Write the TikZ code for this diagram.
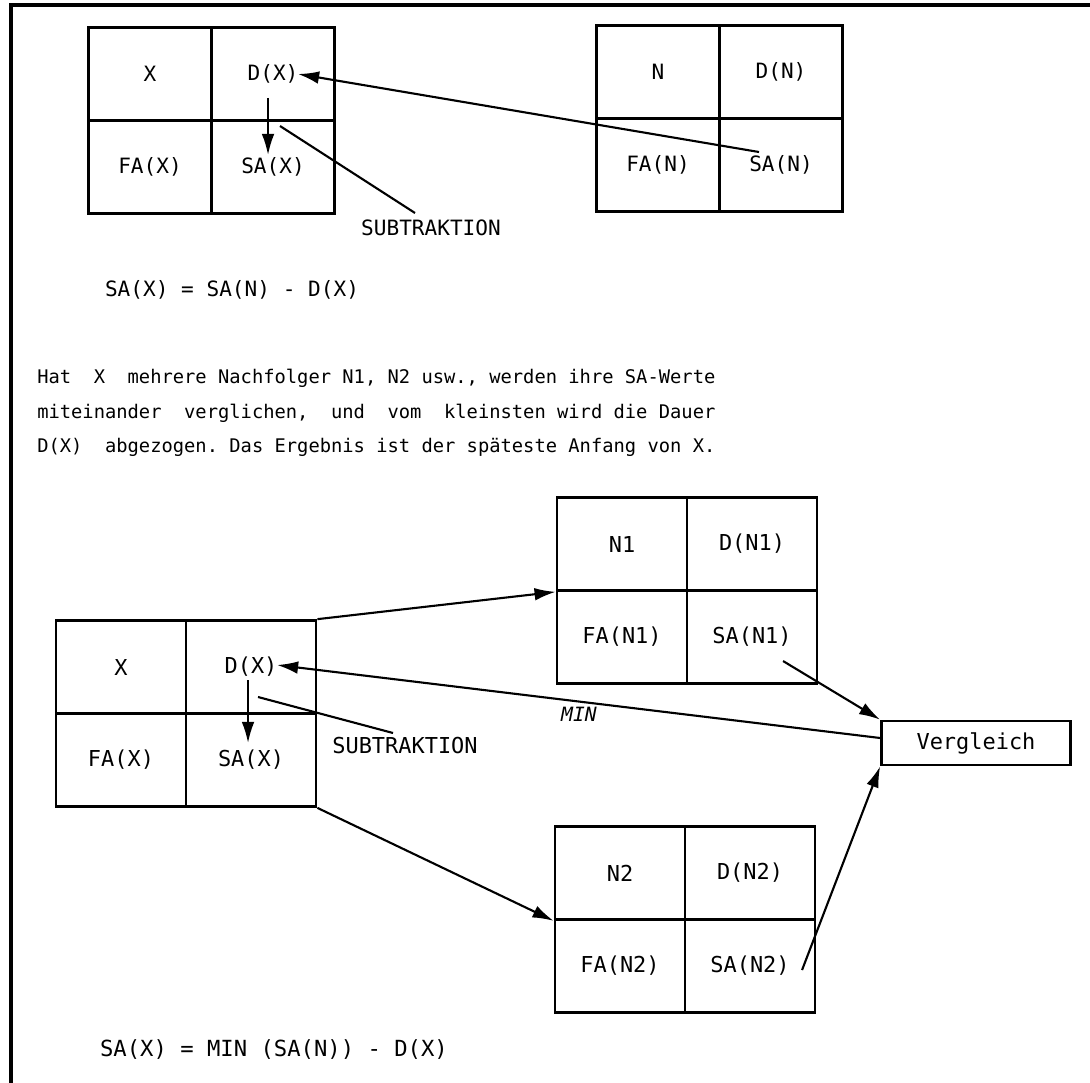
\documentclass[tikz,border=0pt]{standalone}
\usepackage{fontspec}
\setmonofont{DejaVu Sans Mono}
\usetikzlibrary{arrows.meta,calc}

\begin{document}
\begin{tikzpicture}[x=0.025cm,y=-0.025cm]
    \tikzstyle{cell} = [rectangle, draw, line width=1.9pt, inner sep=0pt,
        minimum width=3.075cm, minimum height=2.325cm,
        font=\ttfamily\fontsize{15}{18}\selectfont]
    \tikzstyle{bigcell} = [cell, minimum width=3.25cm,
        font=\ttfamily\fontsize{15.6}{18}\selectfont]
    \tikzstyle{txt} = [inner sep=0pt, font=\ttfamily\fontsize{15}{18}\selectfont]
    \tikzstyle{line} = [draw, line width=1.5pt]
    \tikzstyle{arrow} = [line, -{Latex[length=15pt,width=9pt]}]

    \useasboundingbox (0,0) rectangle (1090,1083);
    \draw [line width=2.2pt] (1090,5) -- (11,5) -- (11,1083);

    \node [cell] (X) at (150,74) {X};
    \node [cell, right of=X, node distance=3.075cm] (DX) {D(X)};
    \node [cell, below of=X, node distance=2.325cm] (FAX) {FA(X)};
    \node [cell, right of=FAX, node distance=3.075cm] (SAX) {SA(X)};
    %
    \node [cell] (N) at (658,72) {N};
    \node [cell, right of=N, node distance=3.075cm] (DN) {D(N)};
    \node [cell, below of=N, node distance=2.325cm] (FAN) {FA(N)};
    \node [cell, right of=FAN, node distance=3.075cm] (SAN) {SA(N)};
    %
    \path [arrow] ($(SAN.center)+(-22,-13)$) -- ($(DX.center)+(25,0)$);
    \path [arrow] ($(DX.center)+(-5,24)$) -- ($(SAX.center)+(-5,-12)$);
    \node [txt] (SUB) at (431,228) {SUBTRAKTION};
    \path [line] ($(SAX.center)+(7,-41)$) -- ($(SUB.center)+(-16,-15)$);
    \node [txt] (eq1) at (232,290) {SA(X) = SA(N) - D(X)};
    %
    \node [txt, anchor=west, align=left,
        font=\ttfamily\fontsize{13.35}{24.5}\selectfont\frenchspacing] (text) at (37,413)
        {Hat~~X~~mehrere Nachfolger N1, N2 usw., werden ihre SA-Werte\\
         miteinander~~verglichen,~~und~~vom~~kleinsten wird die Dauer\\
         D(X)~~abgezogen. Das Ergebnis ist der späteste Anfang von X.};
    %
    \node [bigcell] (X2) at (121,667) {X};
    \node [bigcell, right of=X2, node distance=3.25cm] (DX2) {D(X)};
    \node [bigcell, below of=X2, node distance=2.325cm] (FAX2) {FA(X)};
    \node [bigcell, right of=FAX2, node distance=3.25cm] (SAX2) {SA(X)};
    %
    \node [bigcell] (N1) at (622,544) {N1};
    \node [bigcell, right of=N1, node distance=3.25cm] (DN1) {D(N1)};
    \node [bigcell, below of=N1, node distance=2.325cm] (FAN1) {FA(N1)};
    \node [bigcell, right of=FAN1, node distance=3.25cm] (SAN1) {SA(N1)};
    %
    \node [bigcell] (N2) at (620,873) {N2};
    \node [bigcell, right of=N2, node distance=3.25cm] (DN2) {D(N2)};
    \node [bigcell, below of=N2, node distance=2.325cm] (FAN2) {FA(N2)};
    \node [bigcell, right of=FAN2, node distance=3.25cm] (SAN2) {SA(N2)};
    %
    \node [bigcell, minimum width=4.725cm, minimum height=1.1cm] (Vgl) at (976,743) {Vergleich};
    %
    \path [arrow] (DX2.north east) -- (N1.south west);
    \path [arrow] (SAX2.south east) -- (N2.south west);
    \path [arrow] ($(SAN1.center)+(31,24)$) -- (Vgl.north west);
    \path [arrow] ($(SAN2.center)+(52,4)$) -- (Vgl.south west);
    \path [arrow] ($(Vgl.west)+(0,-5)$) -- ($(DX2.center)+(26,-2)$);
    \node [txt, font=\ttfamily\itshape\fontsize{14}{14}\selectfont] (min) at (579,714) {MIN};
    %
    \path [arrow] ($(DX2.center)+(-3,13)$) -- ($(SAX2.center)+(-3,-17)$);
    \node [txt, font=\ttfamily\fontsize{15.6}{18}\selectfont] (SUB2) at (405,746) {SUBTRAKTION};
    \path [line] ($(DX2.center)+(7,30)$) -- ($(SUB2.center)+(-12,-13)$);
    \node [txt, font=\ttfamily\fontsize{15.8}{18}\selectfont] (eq2) at (274,1050) {SA(X) = MIN (SA(N)) - D(X)};

\end{tikzpicture}
\end{document}
